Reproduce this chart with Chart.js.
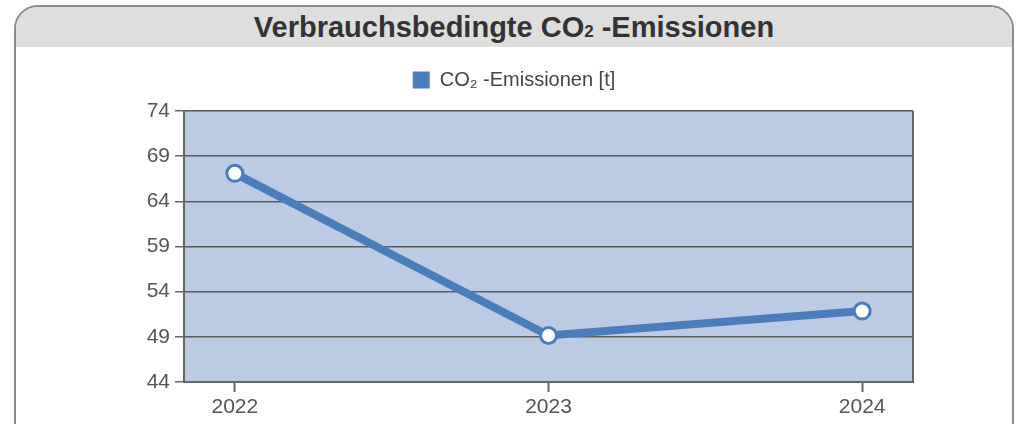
<!DOCTYPE html>
<html lang="de">
<head>
<meta charset="utf-8">
<title>Verbrauchsbedingte CO2-Emissionen</title>
<script src="https://cdn.jsdelivr.net/npm/chart.js@4.4.1/dist/chart.umd.min.js"></script>
<style>
  html, body { margin: 0; padding: 0; background: #fff; }
  body { width: 1017px; height: 424px; position: relative; overflow: hidden; font-family: "Liberation Sans", Arial, sans-serif; }
  #frame { position: absolute; left: 14px; top: 5px; width: 1000px; height: 600px; border: 2px solid #8c8c8c; border-radius: 24px; overflow: hidden; box-sizing: border-box; }
  #header { height: 40px; background: #dedede; text-align: center; font-weight: bold; font-size: 29px; color: #333; line-height: 40px; }
  #header .sub { font-size: 17px; }
  #chart { position: absolute; left: 0; top: 0; }
</style>
</head>
<body>
<div id="frame"><div id="header">Verbrauchsbedingte CO<span class="sub">2</span> -Emissionen</div></div>
<canvas id="chart" width="1017" height="424"></canvas>
<script>
const years = ['2022', '2023', '2024'];
const emissions = [67.1, 49.15, 51.85];
const seriesLabel = 'CO\u2082 -Emissionen [t]';
const yMin = 44, yMax = 74, yStep = 5;

const lineBlue = '#4a7ebb';

Chart.defaults.font.family = '"Liberation Sans", Arial, sans-serif';

// plot background + right border of the plot box
const plotBox = {
  id: 'plotBox',
  beforeDraw(chart) {
    const {ctx, chartArea: a} = chart;
    ctx.save();
    ctx.fillStyle = '#bccbe4';
    ctx.fillRect(a.left, a.top, a.right - a.left, a.bottom - a.top);
    ctx.restore();
  },
  beforeDatasetsDraw(chart) {
    const {ctx, chartArea: a} = chart;
    ctx.save();
    ctx.strokeStyle = '#666';
    ctx.lineWidth = 2;
    ctx.beginPath();
    ctx.moveTo(a.right, a.top);
    ctx.lineTo(a.right, a.bottom);
    ctx.stroke();
    ctx.restore();
  }
};

new Chart(document.getElementById('chart'), {
  type: 'line',
  data: {
    datasets: [{
      label: seriesLabel,
      data: emissions.map((v, i) => ({x: i, y: v})),
      borderColor: lineBlue,
      backgroundColor: lineBlue,
      borderWidth: 8,
      tension: 0,
      pointRadius: 8,
      pointBorderWidth: 3,
      pointBackgroundColor: '#fff',
      pointBorderColor: lineBlue
    }]
  },
  options: {
    responsive: false,
    animation: false,
    layout: { padding: { left: 11, right: 0, top: 49.5, bottom: 0 } },
    plugins: {
      tooltip: { enabled: false },
      legend: {
        position: 'top',
        labels: {
          font: { size: 20 },
          color: '#444',
          boxWidth: 17,
          boxHeight: 17,
          padding: 20.5,
          generateLabels: chart => {
            const items = Chart.defaults.plugins.legend.labels.generateLabels(chart);
            items.forEach(it => { it.lineWidth = 0; it.fillStyle = lineBlue; });
            return items;
          }
        }
      }
    },
    scales: {
      x: {
        type: 'linear',
        min: -0.162,
        max: 2.162,
        afterFit: s => { s.height = 42; },
        ticks: {
          stepSize: 1,
          includeBounds: false,
          autoSkip: false,
          maxRotation: 0,
          font: { size: 21 },
          color: '#555',
          padding: 3,
          callback: v => years[v] ?? ''
        },
        grid: { drawOnChartArea: false, tickLength: 10, tickColor: '#666', tickWidth: 2 },
        border: { color: '#666', width: 2 }
      },
      // empty spacer above the plot
      xTop: {
        position: 'top',
        afterFit: s => { s.height = 11; },
        ticks: { display: false },
        grid: { display: false },
        border: { display: false }
      },
      y: {
        min: yMin,
        max: yMax,
        afterFit: s => { s.width = 173; },
        ticks: { stepSize: yStep, font: { size: 21 }, color: '#555', padding: 5 },
        grid: { color: '#5c5c5c', lineWidth: 1.5, tickLength: 9, tickColor: '#666' },
        border: { color: '#666', width: 2 }
      },
      yRight: {
        position: 'right',
        afterFit: s => { s.width = 104; },
        ticks: { display: false },
        grid: { display: false },
        border: { display: false }
      }
    }
  },
  plugins: [plotBox]
});
</script>
</body>
</html>
